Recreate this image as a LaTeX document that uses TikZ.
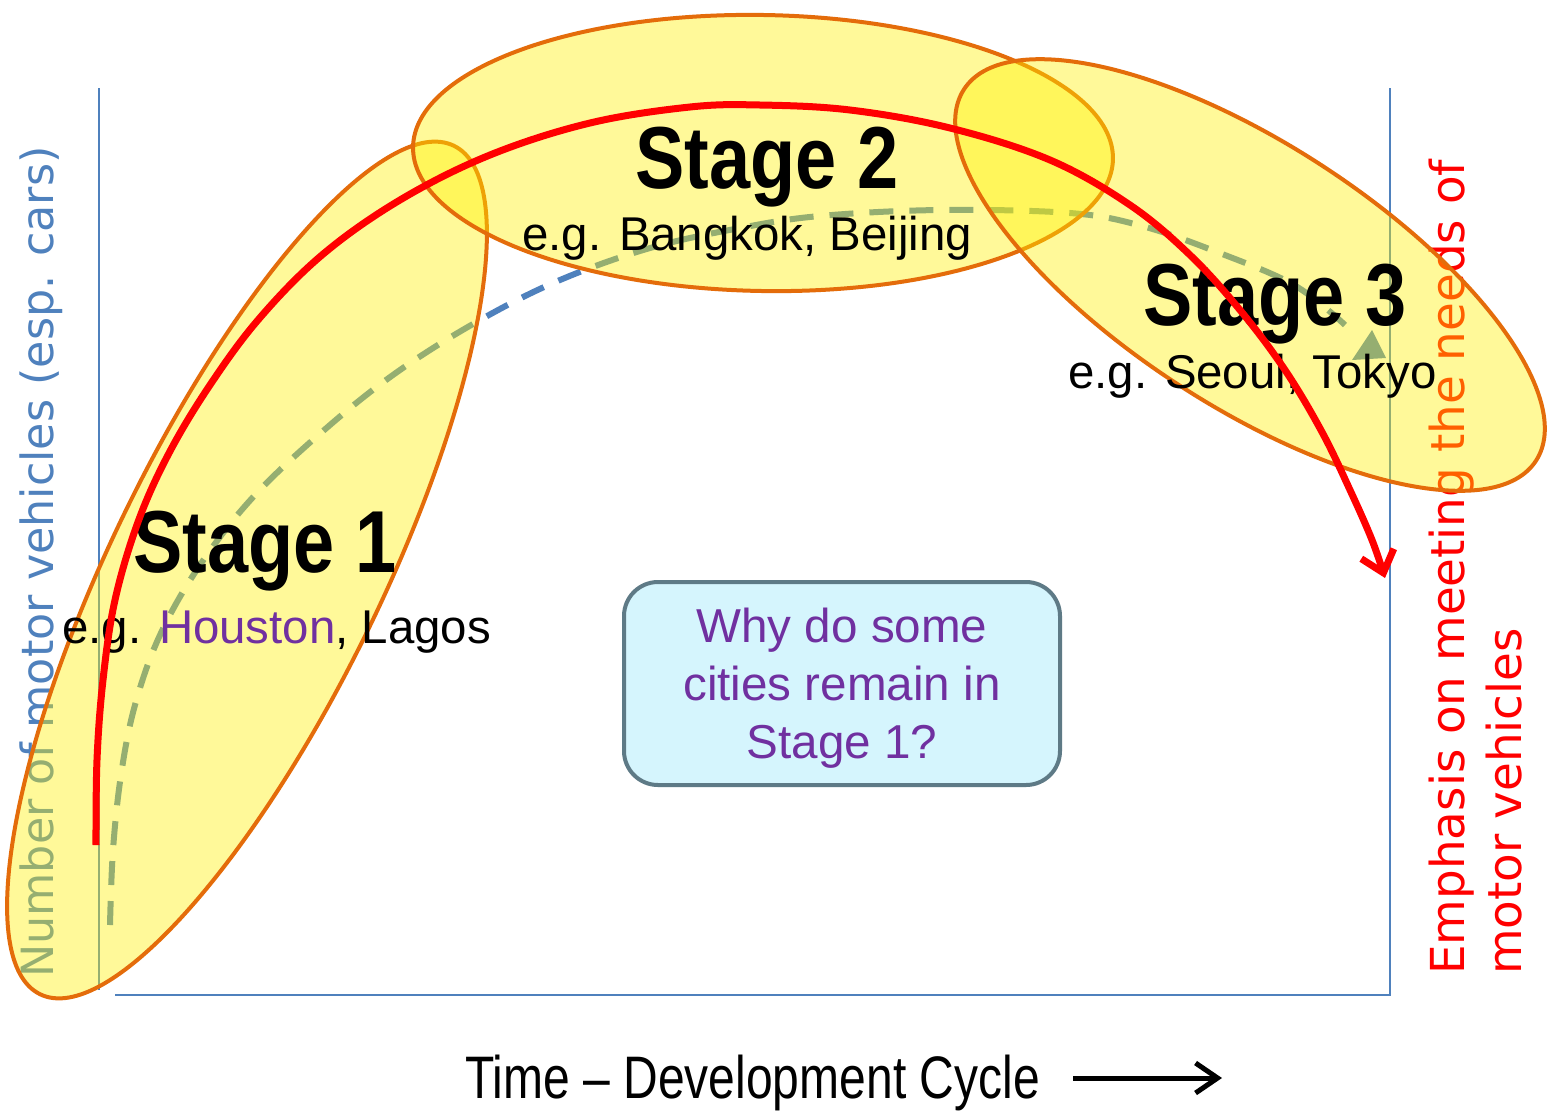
\documentclass[tikz,border=0pt]{standalone}
\usepackage{fontspec}
\setmainfont{Liberation Sans}
\newfontfamily\axisfont{DejaVu Sans}
\usepackage{graphicx}
\usetikzlibrary{shapes.geometric, arrows.meta, positioning, calc}

\definecolor{axisblue}{HTML}{4F81BD}
\definecolor{zoneline}{HTML}{E46C0A}
\definecolor{askfill}{HTML}{D5F5FD}
\definecolor{askline}{HTML}{5E7A86}
\definecolor{askpurple}{HTML}{7030A0}

\tikzset{
  axis/.style={draw=axisblue, line width=1pt},
  zone/.style={ellipse, draw=zoneline, line width=2pt, fill=yellow, fill opacity=0.4,
               draw opacity=1, inner sep=0pt},
  stagename/.style={anchor=base west, inner sep=0pt, font=\fontsize{44}{48}\selectfont\bfseries},
  example/.style={anchor=base west, inner sep=0pt, font=\fontsize{23.7}{28}\selectfont},
  trend/.style={draw=axisblue, line width=3pt, dash pattern=on 12pt off 8pt},
  emphasis/.style={draw=red, line width=3.5pt, -{Straight Barb[length=10pt, width=17pt]}},
  askbox/.style={rectangle, rounded corners=17pt, draw=askline, line width=2pt, fill=askfill,
                 align=center, text=askpurple, font=\fontsize{23.8}{29}\selectfont},
  sidelabel/.style={rotate=90, inner sep=0pt, font=\axisfont},
}

\begin{document}
\begin{tikzpicture}[x=0.5pt, y=-0.5pt]
  \useasboundingbox[fill=white] (0,0) rectangle (1548,1110);

  % Axes
  \coordinate (ytop)   at (99,88);
  \coordinate (ybot)   at (99,990);
  \coordinate (xleft)  at (115,995);
  \coordinate (xright) at (1390,995);
  \coordinate (rtop)   at (1390,88);
  \draw[axis] (ytop) -- (ybot);
  \draw[axis] (xleft) -- (xright) -- (rtop);

  % Side labels
  \node[sidelabel, anchor=base, text=axisblue, font=\axisfont\fontsize{22.2}{26}\selectfont] (ylabel)
    at (54,562) {Number of motor vehicles (esp. cars)};
  \node[sidelabel, anchor=north west, align=left, text=red, font=\axisfont\fontsize{23.4}{28.5}\selectfont] (rlabel)
    at (1429,975) {Emphasis on meeting the needs of\\motor vehicles};

  % Dashed growth curve
  \draw[trend] plot[smooth, tension=0.6] coordinates {(110,925) (113,850) (121,775) (135,705)
    (160,635) (200,565) (255,495) (330,425) (400,370) (480,320) (560,280) (650,248) (740,228)
    (820,216) (940,210) (1070,213) (1142,226) (1217,252) (1294,285) (1345,325)};
  \fill[axisblue] (1372,330) -- (1386,358) -- (1352,360) -- cycle;

  % Stage zones
  \node[zone, minimum width=472pt, minimum height=135pt, rotate=64]  (zone1) at (247,570) {};
  \node[zone, minimum width=350pt, minimum height=138pt, rotate=-1]  (zone2) at (763,153) {};
  \node[zone, minimum width=341pt, minimum height=131pt, rotate=-33] (zone3) at (1250,275) {};

  % Stage names
  \node[stagename] (stage1) at (133,572)  {\scalebox{0.84}[1]{Stage 1}};
  \node[example]   (ex1)    at (62,643)   {e.g. \textcolor{askpurple}{Houston}, Lagos};
  \node[stagename] (stage2) at (635,188)  {\scalebox{0.84}[1]{Stage 2}};
  \node[example]   (ex2)    at (522,250)  {e.g. Bangkok, Beijing};
  \node[stagename] (stage3) at (1143,325) {\scalebox{0.84}[1]{Stage 3}};
  \node[example]   (ex3)    at (1068,388) {e.g. Seoul, Tokyo};

  % Emphasis arc
  \coordinate (arcstart) at (96,845);
  \coordinate (arcend)   at (1385,578);
  \draw[emphasis] plot[smooth, tension=0.6] coordinates {(arcstart) (97,760) (103,680) (115,600)
    (138,522) (168,455) (208,388) (258,320) (322,255) (400,200) (490,155) (590,123) (690,107)
    (760,105) (850,110) (950,128) (1050,160) (1130,205) (1190,255) (1240,310) (1285,370)
    (1322,432) (1350,490) (1372,540) (arcend)};

  % Question box
  \node[askbox, minimum width=218pt, minimum height=101.5pt] (ask) at (842,683.5)
    {\rule{0pt}{22.4pt}Why do some\\cities remain in\\Stage 1?};

  % Time axis caption
  \node[anchor=base west, inner sep=0pt, font=\fontsize{30}{34}\selectfont] (timelabel)
    at (465,1098) {\scalebox{0.8}[1]{Time -- Development Cycle}};
  \coordinate (tail) at (1073,1078);
  \coordinate (head) at (1222,1078);
  \draw[line width=2.5pt, -{Straight Barb[length=11pt, width=15pt]}] (tail) -- (head);

\end{tikzpicture}
\end{document}
